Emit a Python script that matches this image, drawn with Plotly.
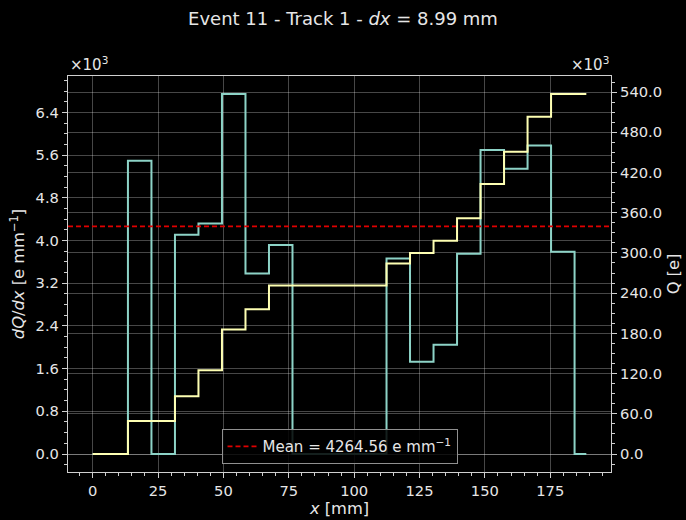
import plotly.graph_objects as go

# Track binning
DX = 8.99  # mm
N_BINS = 22
x_mm = [round(k * DX, 2) for k in range(N_BINS)]

# Charge per unit length in each slice [e/mm]
dqdx = [0, 0, 5495, 0, 4109, 4320, 6745, 3384, 3915, 0, 0, 0, 0,
        3665, 1729, 2048, 3753, 5695, 5345, 5782, 3790, 0]

# Accumulated charge along the track [e]
q_cum = [0, 0, 49400, 49400, 86300, 125100, 185700, 216100, 251300,
         251300, 251300, 251300, 251300, 284200, 299700, 318100, 351800,
         403000, 451000, 503000, 537100, 537100]

MEAN_DQDX = 4264.56

left_tick_vals = [0, 800, 1600, 2400, 3200, 4000, 4800, 5600, 6400]
left_tick_text = ["0.0", "0.8", "1.6", "2.4", "3.2", "4.0", "4.8", "5.6", "6.4"]
right_tick_vals = [0, 60000, 120000, 180000, 240000, 300000, 360000, 420000, 480000, 540000]
right_tick_text = ["0.0", "60.0", "120.0", "180.0", "240.0", "300.0", "360.0", "420.0", "480.0", "540.0"]
x_tick_vals = [0, 25, 50, 75, 100, 125, 150, 175]


def padded(lo, hi, frac=0.05):
    span = hi - lo
    return [lo - frac * span, hi + frac * span]


x_range = padded(min(x_mm), max(x_mm))
y_range = padded(min(dqdx), max(dqdx))
y2_range = padded(min(q_cum), max(q_cum))

FG = "#e6e6e6"
GRID = "rgba(255,255,255,0.28)"
FONT = "DejaVu Sans"
TICK_SIZE = 14.7
LABEL_SIZE = 16.3

fig = go.Figure()

fig.add_trace(go.Scatter(
    x=x_mm, y=dqdx, mode="lines", line_shape="hvh",
    line=dict(color="#8dd3c7", width=2), showlegend=False, yaxis="y"))

fig.add_trace(go.Scatter(
    x=x_range, y=[MEAN_DQDX, MEAN_DQDX], mode="lines",
    line=dict(color="#e00000", width=1.6, dash="5px,3px"),
    name=f"Mean = {MEAN_DQDX:.2f} e mm<sup>\u22121</sup>", yaxis="y"))

fig.add_trace(go.Scatter(
    x=x_mm, y=q_cum, mode="lines", line_shape="hvh",
    line=dict(color="#feffb3", width=2), showlegend=False, yaxis="y2"))

axis_common = dict(
    showline=True, linecolor="#d0d0d0", linewidth=1.2,
    ticks="outside", ticklen=5, tickwidth=1, tickcolor="#d0d0d0",
    tickfont=dict(family=FONT, size=TICK_SIZE, color=FG),
    showgrid=True, gridcolor=GRID, gridwidth=1, zeroline=False,
    automargin=False,
)

fig.update_layout(
    width=686, height=520,
    margin=dict(l=68, r=75, t=76, b=48),
    paper_bgcolor="black", plot_bgcolor="black",
    font=dict(family=FONT, color=FG, size=TICK_SIZE),
    title=dict(
        text="Event 11 - Track 1 - <i>dx</i> = 8.99 mm",
        x=0.5, xanchor="center", y=1 - 19 / 520, yanchor="middle",
        font=dict(family=FONT, size=18, color=FG)),
    xaxis=dict(
        **axis_common, range=x_range, tickvals=x_tick_vals, mirror=True,
        minor=dict(dtick=5, tick0=0, ticks="outside", ticklen=3, tickcolor="#d0d0d0", showgrid=False),
        title=dict(text="<i>x</i> [mm]", font=dict(family=FONT, size=LABEL_SIZE, color=FG), standoff=4)),
    yaxis=dict(
        **axis_common, range=y_range, tickvals=left_tick_vals, ticktext=left_tick_text,
        minor=dict(dtick=200, tick0=0, ticks="outside", ticklen=3, tickcolor="#d0d0d0", showgrid=False),
        title=dict(text="<i>dQ</i>/<i>dx</i> [e mm<sup>\u22121</sup>]",
                   font=dict(family=FONT, size=LABEL_SIZE, color=FG), standoff=6)),
    yaxis2=dict(
        **axis_common, range=y2_range, tickvals=right_tick_vals, ticktext=right_tick_text,
        overlaying="y", side="right",
        minor=dict(dtick=15000, tick0=0, ticks="outside", ticklen=3, tickcolor="#d0d0d0", showgrid=False),
        title=dict(text="Q [e]", font=dict(family=FONT, size=LABEL_SIZE, color=FG), standoff=6)),
    legend=dict(
        x=0.5, xanchor="center", y=0.02, yanchor="bottom",
        bgcolor="rgba(0,0,0,0.85)", bordercolor="#909090", borderwidth=1,
        font=dict(family=FONT, size=15, color=FG)),
    annotations=[
        dict(text="\u00d710<sup>3</sup>", xref="paper", yref="paper", x=0, y=1,
             xanchor="left", yanchor="bottom", showarrow=False, yshift=0,
             font=dict(family=FONT, size=15, color=FG)),
        dict(text="\u00d710<sup>3</sup>", xref="paper", yref="paper", x=1, y=1,
             xanchor="right", yanchor="bottom", showarrow=False, yshift=0,
             font=dict(family=FONT, size=15, color=FG)),
    ],
)

fig.write_html("out.html")
